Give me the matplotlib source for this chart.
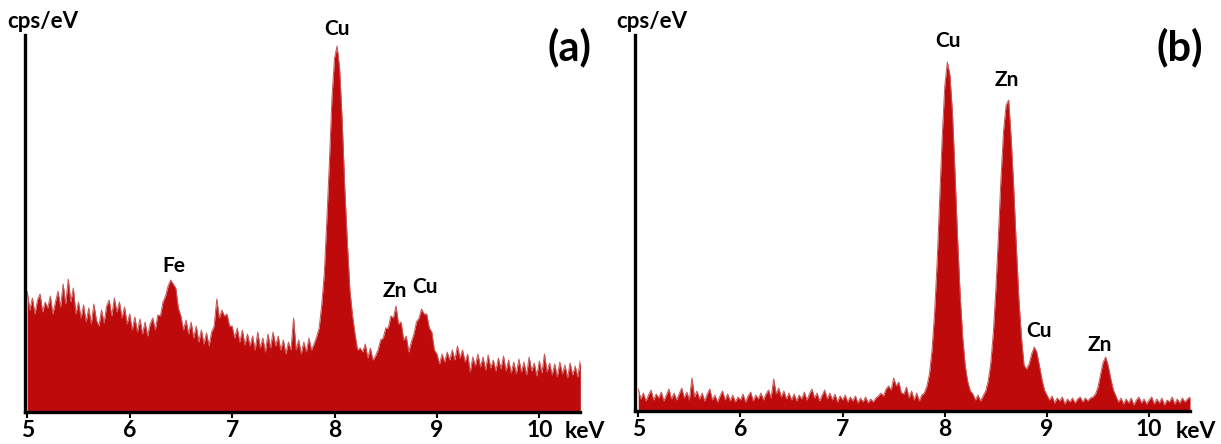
import numpy as np
import matplotlib
matplotlib.use("Agg")
import matplotlib.pyplot as plt

plt.rcParams['font.family'] = ['Lato', 'DejaVu Sans']

# energy grid, 25 eV per channel
energy = np.round(np.arange(5.0, 10.4001, 0.025), 3)

# spectrum (a), arbitrary counts
counts_a = [
    120, 102, 114, 98, 112, 118, 100, 110,
    104, 116, 98, 110, 121, 105, 128, 108,
    133, 110, 124, 98, 110, 94, 107, 90,
    104, 88, 108, 92, 86, 102, 89, 106,
    112, 96, 114, 100, 110, 94, 105, 88,
    98, 82, 95, 80, 93, 78, 90, 76,
    88, 94, 82, 97, 96, 110, 116, 126,
    132, 128, 124, 104, 96, 82, 92, 78,
    90, 74, 86, 70, 82, 68, 79, 66,
    80, 86, 113, 94, 102, 96, 98, 86,
    86, 74, 84, 70, 82, 67, 78, 66,
    76, 62, 80, 64, 74, 60, 78, 64,
    80, 66, 76, 62, 72, 58, 70, 62,
    94, 62, 72, 58, 70, 60, 74, 62,
    68, 75, 84, 107, 138, 192, 250, 314,
    354, 366, 343, 291, 224, 170, 122, 97,
    78, 62, 64, 60, 68, 54, 64, 52,
    56, 62, 72, 74, 84, 84, 96, 94,
    106, 88, 90, 72, 76, 60, 70, 78,
    90, 94, 103, 98, 98, 84, 80, 62,
    58, 48, 58, 50, 60, 52, 62, 52,
    66, 54, 62, 50, 58, 40, 55, 46,
    58, 45, 55, 42, 57, 44, 52, 41,
    54, 43, 56, 41, 52, 39, 50, 38,
    53, 40, 50, 37, 55, 41, 49, 36,
    51, 39, 58, 40, 49, 37, 48, 35,
    50, 38, 47, 34, 49, 37, 46, 35,
    52,
]

# spectrum (b), arbitrary counts
counts_b = [
    22, 12, 18, 10, 16, 21, 11, 17,
    13, 19, 10, 16, 22, 12, 18, 11,
    17, 23, 13, 19, 11, 33, 14, 20,
    12, 18, 10, 17, 22, 11, 16, 9,
    15, 20, 11, 17, 10, 16, 9, 14,
    11, 17, 9, 15, 19, 10, 16, 12,
    18, 11, 17, 21, 13, 32, 17, 23,
    14, 20, 12, 18, 11, 17, 10, 16,
    12, 19, 11, 17, 22, 13, 18, 10,
    16, 21, 12, 18, 11, 17, 9, 15,
    11, 16, 9, 14, 10, 15, 8, 13,
    9, 14, 8, 12, 9, 13, 15, 18,
    15, 22, 25, 21, 33, 25, 29, 18,
    17, 24, 13, 20, 11, 18, 10, 16,
    18, 25, 37, 61, 98, 149, 212, 275,
    325, 349, 336, 298, 238, 173, 117, 74,
    45, 29, 20, 17, 11, 16, 10, 15,
    20, 30, 48, 78, 122, 176, 233, 280,
    306, 311, 272, 222, 165, 112, 74, 46,
    42, 47, 57, 64, 59, 46, 32, 21,
    16, 11, 15, 8, 13, 10, 14, 7,
    12, 9, 13, 8, 12, 14, 9, 13,
    10, 13, 14, 17, 24, 37, 49, 54,
    45, 32, 21, 15, 9, 13, 7, 12,
    8, 13, 6, 11, 14, 8, 12, 7,
    11, 14, 7, 12, 8, 13, 6, 11,
    9, 14, 7, 12, 8, 13, 9, 12,
    14,
]

labels_a = ["Fe", "Cu", "Zn", "Cu"]
label_e_a = [6.43, 8.02, 8.59, 8.88]
labels_b = ["Cu", "Zn", "Cu", "Zn"]
label_e_b = [8.03, 8.61, 8.92, 9.52]

ticks = [5, 6, 7, 8, 9, 10]

W, H = 1221, 444
fig = plt.figure(figsize=(W / 100, H / 100), dpi=100)

red = '#BE0A0A'
spike = '#C45A5A'


def px(x, y):
    return x / W, 1 - y / H


def panel(rect, counts, xlim, ytop, labels, label_e, label_h):
    ax = fig.add_axes(rect)
    ax.fill_between(energy, counts, 0, color=red, lw=0)
    ax.plot(energy, counts, color=spike, lw=0.7)
    ax.set_xlim(xlim)
    ax.set_ylim(0, ytop)
    for s in ['top', 'right']:
        ax.spines[s].set_visible(False)
    for s in ['left', 'bottom']:
        ax.spines[s].set_linewidth(2.4)
        ax.spines[s].set_color('black')
    ax.set_yticks([])
    ax.set_xticks(ticks)
    ax.set_xticklabels([str(t) for t in ticks], fontsize=16.5, fontweight='bold')
    ax.tick_params(axis='x', length=4, width=1.5, pad=2)
    for lab, e, h in zip(labels, label_e, label_h):
        ax.text(e, h, lab, ha='center', va='center', fontsize=15,
                fontweight='bold', clip_on=False)
    return ax


ax1 = panel([25 / W, 32 / H, 555 / W, 377 / H], counts_a, (4.978, 10.397), 377,
            labels_a, label_e_a, [146, 383, 121, 125])
ax2 = panel([635 / W, 33 / H, 555 / W, 376 / H], counts_b, (4.968, 10.40), 376,
            labels_b, label_e_b, [370, 331, 80, 66])

# axis titles and panel letters
for x in (43, 652):
    fig.text(*px(x, 21), 'cps/eV', ha='center', va='center', fontsize=16,
             fontweight='bold')
for x in (585, 1196):
    fig.text(*px(x, 431), 'keV', ha='center', va='center', fontsize=16.5,
             fontweight='bold')
fig.text(*px(569, 47), '(a)', ha='center', va='center', fontsize=30,
         fontweight='bold')
fig.text(*px(1180, 47), '(b)', ha='center', va='center', fontsize=30,
         fontweight='bold')

fig.savefig('out.png', dpi=100)
